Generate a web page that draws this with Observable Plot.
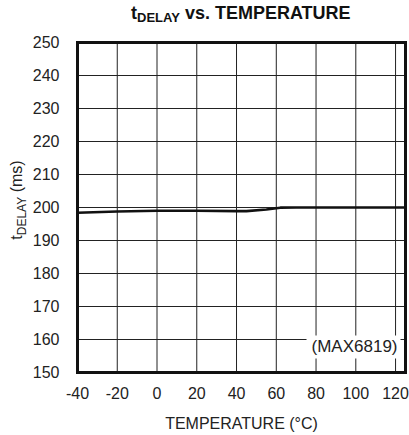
<!DOCTYPE html>
<html><head><meta charset="utf-8">
<script src="https://cdn.jsdelivr.net/npm/d3@7"></script>
<script src="https://cdn.jsdelivr.net/npm/@observablehq/plot@0.6"></script>
<style>
body{margin:0;background:#fff;}
#title{height:30px;width:409px;position:relative;font-family:"Liberation Sans Narrow","Arial Narrow","Liberation Sans",sans-serif;font-weight:bold;font-size:18px;color:#111;}
#title span.t{position:absolute;left:131px;top:3px;white-space:nowrap;}
#title sub{font-size:13px;vertical-align:-3px;}
</style></head>
<body>
<div id="title"><span class="t">t<sub>DELAY</sub> vs. TEMPERATURE</span></div>
<div id="chart"></div>
<script>
const temperature = [-40, -20, 0, 20, 40, 45, 55, 62, 70, 80, 100, 125];
const tdelay      = [198.4, 198.8, 199.0, 199.0, 198.9, 198.9, 199.4, 199.95, 200, 200, 200, 200];
const xTicks = [-40, -20, 0, 20, 40, 60, 80, 100, 120];
const yTicks = [150, 160, 170, 180, 190, 200, 210, 220, 230, 240, 250];
const note = "(MAX6819)";

const data = temperature.map((t, i) => ({t, d: tdelay[i]}));
const font = '"Liberation Sans Narrow","Arial Narrow","Liberation Sans",sans-serif';

const chart = Plot.plot({
  width: 409, height: 405,
  marginTop: 12, marginBottom: 63, marginLeft: 77, marginRight: 4,
  style: {fontFamily: font, fontSize: "16px", color: "#222", background: "#fff"},
  x: {domain: [-40, 125]},
  y: {domain: [150, 250]},
  marks: [
    Plot.ruleX(xTicks, {stroke: "#222", strokeWidth: 1}),
    Plot.ruleY(yTicks, {stroke: "#222", strokeWidth: 1}),
    Plot.text([note], {frameAnchor: "bottom-right", textAnchor: "end", dx: -8, dy: -21, text: d => d, fontSize: 17, fill: "#222", className: "note"}),
    Plot.line(data, {x: "t", y: "d", stroke: "#111", strokeWidth: 2.6}),
    Plot.frame({stroke: "#111", strokeWidth: 3}),
    Plot.axisX({ticks: xTicks, tickSize: 0, tickPadding: 15, fontSize: 16, tickFormat: d => (d < 0 ? "-" : "") + Math.abs(d), label: "TEMPERATURE (°C)", labelAnchor: "center", labelArrow: "none", labelOffset: 56}),
    Plot.axisY({ticks: yTicks, tickSize: 0, tickPadding: 18, fontSize: 16, label: null})
  ]
});
document.getElementById("chart").appendChild(chart);

const svg = d3.select(chart);
// white box behind annotation
const noteG = svg.select("g.note");
const noteText = noteG.select("text").node();
if (noteText) {
  const b = noteText.getBBox();
  const ctm = noteText.getAttribute("transform");
  noteG.insert("rect", "text")
    .attr("x", b.x - 5).attr("y", b.y - 1).attr("width", b.width + 8).attr("height", b.height + 4)
    .attr("fill", "white").attr("transform", ctm);
}

// rotated y-axis label with subscript
const lbl = svg.append("text")
  .attr("transform", "translate(22,170) rotate(-90)")
  .attr("text-anchor", "middle")
  .attr("font-family", font).attr("font-size", 16).attr("fill", "#222");
lbl.append("tspan").text("t");
lbl.append("tspan").attr("font-size", 12).attr("dy", 4).text("DELAY");
lbl.append("tspan").attr("dy", -4).text(" (ms)");
</script>
</body></html>
